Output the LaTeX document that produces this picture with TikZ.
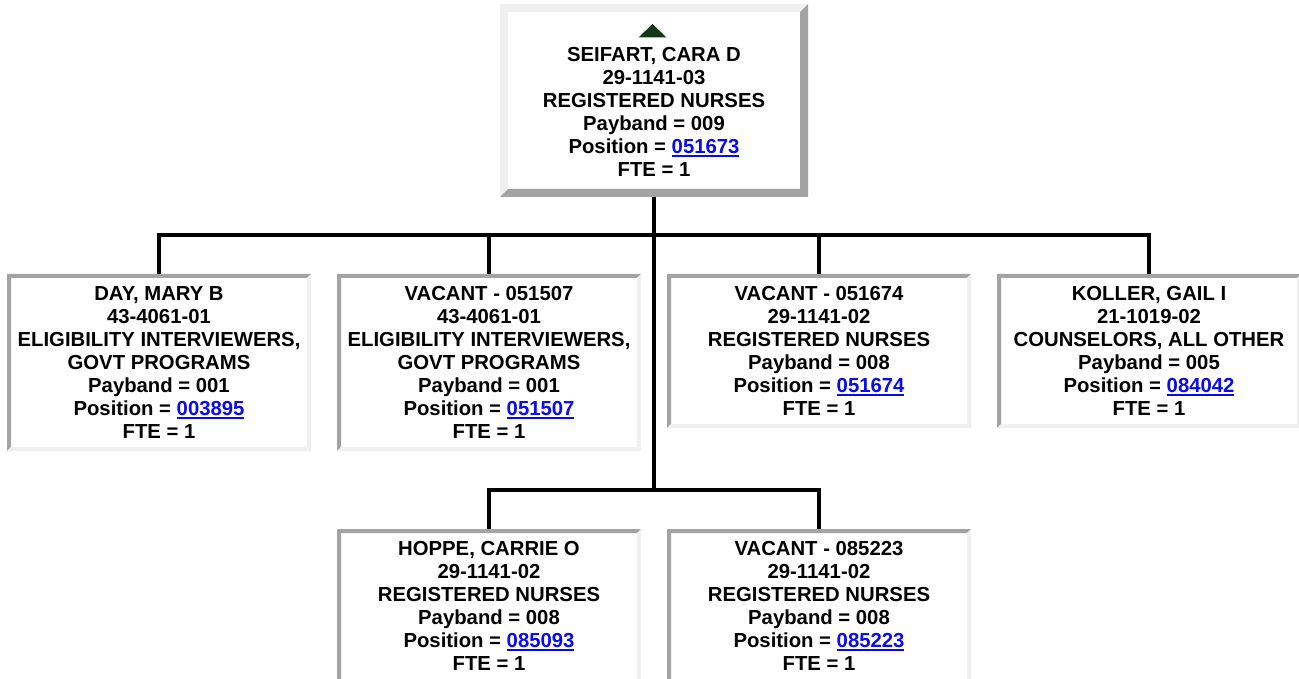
\documentclass[tikz,border=0pt]{standalone}
\usepackage{fontspec}
\setmainfont{Liberation Sans}
\definecolor{bevdark}{RGB}{163,163,163}
\definecolor{bevlight}{RGB}{240,240,240}
\definecolor{linkblue}{RGB}{10,10,238}
\definecolor{tricol}{RGB}{20,55,20}
\newcommand{\poslink}[1]{\textcolor{linkblue}{\setbox0\hbox{#1}\rlap{\rule[-3.2pt]{\wd0}{1.9pt}}\box0}}
\tikzset{
  txt/.style={font=\fontsize{20.3}{23}\selectfont\bfseries, align=center, inner sep=0pt},
  inset/.style={txt, fill=white, minimum width=304pt, minimum height=#1, outer sep=0pt,
    path picture={
      \fill[bevdark] (path picture bounding box.north west) -- (path picture bounding box.north east)
        -- ([xshift=-4pt,yshift=-4pt]path picture bounding box.north east)
        -- ([xshift=4pt,yshift=-4pt]path picture bounding box.north west)
        -- ([xshift=4pt,yshift=4pt]path picture bounding box.south west)
        -- (path picture bounding box.south west) -- cycle;
      \fill[bevlight] (path picture bounding box.south west) -- (path picture bounding box.south east)
        -- (path picture bounding box.north east)
        -- ([xshift=-4pt,yshift=-4pt]path picture bounding box.north east)
        -- ([xshift=-4pt,yshift=4pt]path picture bounding box.south east)
        -- ([xshift=4pt,yshift=4pt]path picture bounding box.south west) -- cycle;
    }},
  outset/.style={fill=white, inner sep=0pt, outer sep=0pt,
    path picture={
      \fill[bevlight] (path picture bounding box.north west) -- (path picture bounding box.north east)
        -- ([xshift=-8pt,yshift=-8pt]path picture bounding box.north east)
        -- ([xshift=8pt,yshift=-8pt]path picture bounding box.north west)
        -- ([xshift=8pt,yshift=8pt]path picture bounding box.south west)
        -- (path picture bounding box.south west) -- cycle;
      \fill[bevdark] (path picture bounding box.south west) -- (path picture bounding box.south east)
        -- (path picture bounding box.north east)
        -- ([xshift=-8pt,yshift=-8pt]path picture bounding box.north east)
        -- ([xshift=-8pt,yshift=8pt]path picture bounding box.south east)
        -- ([xshift=8pt,yshift=8pt]path picture bounding box.south west) -- cycle;
    }},
  conn/.style={line width=4pt, black},
}
\begin{document}
\begin{tikzpicture}[x=1pt, y=-1pt]
\useasboundingbox (0,0) rectangle (1299,679);
\clip (0,0) rectangle (1299,679);

% top box
\node[outset, minimum width=308pt, minimum height=193pt, anchor=north west] (top) at (500,4) {};
\fill[tricol] (638.5,37.5) -- (666.5,37.5) -- (652.5,24) -- cycle;
\node[txt, anchor=north] (toptext) at (654,47.5) {SEIFART, CARA D\\29-1141-03\\REGISTERED NURSES\\Payband = 009\\Position = \poslink{051673}\\FTE = 1};

% second row
\node[inset=177pt, anchor=north west] (day) at (7,274) {DAY, MARY B\\43-4061-01\\ELIGIBILITY INTERVIEWERS,\\GOVT PROGRAMS\\Payband = 001\\Position = \poslink{003895}\\FTE = 1};
\node[inset=177pt, anchor=north west] (vacA) at (337,274) {VACANT - 051507\\43-4061-01\\ELIGIBILITY INTERVIEWERS,\\GOVT PROGRAMS\\Payband = 001\\Position = \poslink{051507}\\FTE = 1};
\node[inset=154pt, anchor=north west] (vacB) at (667,274) {VACANT - 051674\\29-1141-02\\REGISTERED NURSES\\Payband = 008\\Position = \poslink{051674}\\FTE = 1};
\node[inset=154pt, anchor=north west] (koller) at (997,274) {KOLLER, GAIL I\\21-1019-02\\COUNSELORS, ALL OTHER\\Payband = 005\\Position = \poslink{084042}\\FTE = 1};

% third row
\node[inset=154pt, anchor=north west] (hoppe) at (337,529) {HOPPE, CARRIE O\\29-1141-02\\REGISTERED NURSES\\Payband = 008\\Position = \poslink{085093}\\FTE = 1};
\node[inset=154pt, anchor=north west] (vacC) at (667,529) {VACANT - 085223\\29-1141-02\\REGISTERED NURSES\\Payband = 008\\Position = \poslink{085223}\\FTE = 1};

% connectors
\coordinate (j1) at (654,235);
\coordinate (j2) at (654,490);
\draw[conn] (top.south) -- (j2);
\draw[conn] (day.north) |- (j1) -| (koller.north);
\draw[conn] (vacA.north) -- (vacA.north |- j1);
\draw[conn] (vacB.north) -- (vacB.north |- j1);
\draw[conn] (hoppe.north) |- (j2) -| (vacC.north);
\end{tikzpicture}
\end{document}
